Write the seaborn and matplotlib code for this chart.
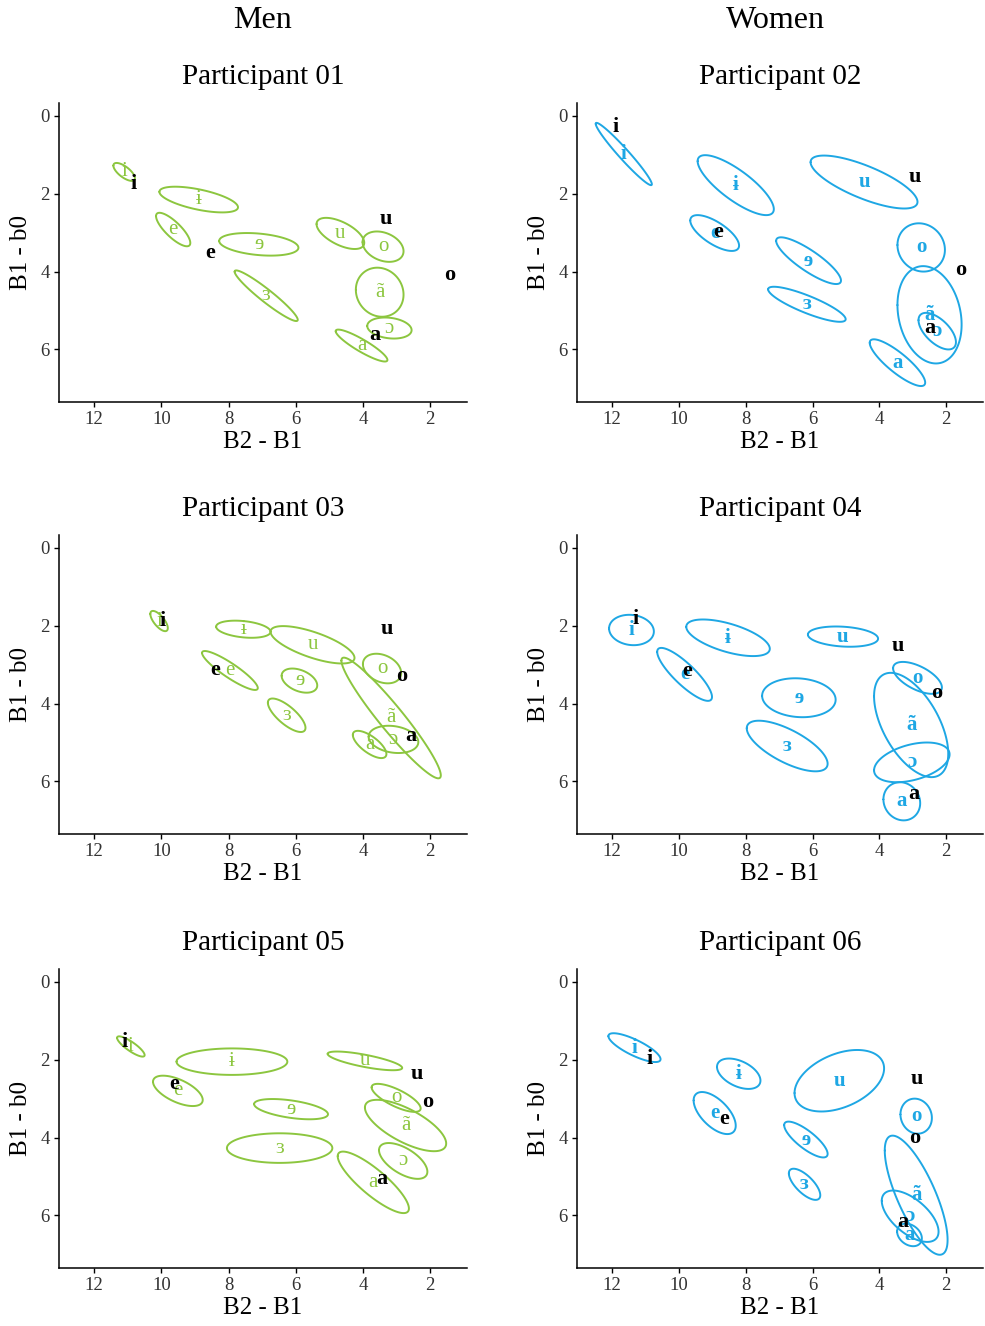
import numpy as np
import pandas as pd
import seaborn as sns
from matplotlib import pyplot as plt

# vowel categories (ellipse labels) and reference vowels (black labels)
VOWELS = ['i', 'ɨ', 'e', 'ɘ', 'ɜ', 'u', 'o', 'ã', 'ɔ', 'a']
REF_VOWELS = ['i', 'e', 'u', 'o', 'a']

# per participant: ellipse centre, half ranges and correlation (Bark)
P01_CX = [11.11, 8.89, 9.65, 7.10, 6.88, 4.67, 3.40, 3.50, 3.21, 4.04]
P01_CY = [1.44, 2.15, 2.92, 3.30, 4.62, 3.02, 3.36, 4.53, 5.45, 5.90]
P01_HX = [0.32, 1.17, 0.51, 1.18, 0.94, 0.71, 0.61, 0.71, 0.66, 0.77]
P01_HY = [0.23, 0.33, 0.43, 0.29, 0.65, 0.40, 0.39, 0.63, 0.27, 0.41]
P01_R = [-0.7, -0.6, -0.8, -0.3, -0.95, -0.6, -0.3, -0.1, -0.2, -0.9]
P01_REF_X = [10.83, 8.56, 3.31, 1.42, 3.66]
P01_REF_Y = [1.74, 3.51, 2.64, 4.09, 5.63]

P02_CX = [11.65, 8.30, 8.93, 6.12, 6.17, 4.46, 2.75, 2.50, 2.27, 3.46]
P02_CY = [0.98, 1.78, 3.01, 3.72, 4.84, 1.70, 3.38, 5.11, 5.53, 6.34]
P02_HX = [0.84, 1.14, 0.73, 0.97, 1.16, 1.60, 0.71, 0.96, 0.56, 0.83]
P02_HY = [0.80, 0.77, 0.46, 0.60, 0.45, 0.68, 0.62, 1.25, 0.47, 0.60]
P02_R = [-0.97, -0.8, -0.7, -0.85, -0.85, -0.75, -0.1, -0.2, -0.6, -0.85]
P02_REF_X = [11.88, 8.81, 2.95, 1.58, 2.50]
P02_REF_Y = [0.28, 2.98, 1.57, 3.96, 5.44]

P03_CX = [10.07, 7.56, 7.96, 5.89, 6.27, 5.50, 3.43, 3.16, 3.09, 3.80]
P03_CY = [1.88, 2.09, 3.15, 3.41, 4.30, 2.49, 3.10, 4.37, 4.92, 5.05]
P03_HX = [0.26, 0.81, 0.83, 0.53, 0.56, 1.25, 0.57, 1.48, 0.74, 0.50]
P03_HY = [0.26, 0.22, 0.50, 0.31, 0.43, 0.48, 0.38, 1.55, 0.35, 0.35]
P03_R = [-0.7, -0.3, -0.9, -0.4, -0.75, -0.7, -0.3, -0.95, -0.2, -0.7]
P03_REF_X = [9.95, 8.40, 3.28, 2.84, 2.58]
P03_REF_Y = [1.88, 3.14, 2.09, 3.29, 4.83]

P04_CX = [11.42, 8.53, 9.83, 6.41, 6.76, 5.09, 2.86, 3.05, 3.03, 3.33]
P04_CY = [2.11, 2.31, 3.25, 3.85, 5.09, 2.28, 3.34, 4.55, 5.51, 6.51]
P04_HX = [0.67, 1.25, 0.82, 1.10, 1.21, 1.05, 0.73, 1.11, 1.13, 0.55]
P04_HY = [0.39, 0.47, 0.68, 0.50, 0.65, 0.26, 0.41, 1.34, 0.51, 0.49]
P04_R = [-0.1, -0.6, -0.85, -0.1, -0.7, -0.2, -0.6, -0.55, 0.4, -0.1]
P04_REF_X = [11.31, 9.75, 3.44, 2.30, 2.97]
P04_REF_Y = [1.84, 3.16, 2.52, 3.74, 6.32]

P05_CX = [10.91, 7.90, 9.51, 6.14, 6.48, 3.94, 3.01, 2.73, 2.80, 3.69]
P05_CY = [1.66, 2.05, 2.80, 3.27, 4.27, 2.03, 2.98, 3.69, 4.60, 5.15]
P05_HX = [0.41, 1.65, 0.74, 1.10, 1.57, 1.11, 0.73, 1.21, 0.72, 1.06]
P05_HY = [0.26, 0.34, 0.39, 0.26, 0.38, 0.24, 0.36, 0.66, 0.46, 0.79]
P05_R = [-0.85, 0.0, -0.6, -0.5, 0.0, -0.75, -0.75, -0.7, -0.6, -0.85]
P05_REF_X = [11.09, 9.63, 2.38, 2.06, 3.43]
P05_REF_Y = [1.54, 2.62, 2.37, 3.08, 5.06]

P06_CX = [11.33, 8.21, 8.93, 6.20, 6.24, 5.20, 2.90, 2.90, 3.08, 3.10]
P06_CY = [1.69, 2.36, 3.37, 4.05, 5.20, 2.54, 3.45, 5.48, 6.02, 6.50]
P06_HX = [0.78, 0.65, 0.63, 0.65, 0.47, 1.34, 0.47, 0.94, 0.85, 0.37]
P06_HY = [0.37, 0.39, 0.54, 0.46, 0.40, 0.79, 0.45, 1.53, 0.66, 0.29]
P06_R = [-0.8, -0.45, -0.6, -0.8, -0.7, 0.4, -0.1, -0.75, -0.6, -0.3]
P06_REF_X = [10.87, 8.66, 2.89, 2.94, 3.29]
P06_REF_Y = [1.97, 3.52, 2.50, 4.02, 6.17]

GREEN = '#8cc63f'
BLUE = '#1ea7e4'
SERIF = ['Liberation Serif', 'DejaVu Serif']

sns.set_theme(style='ticks')
plt.rcParams['font.family'] = SERIF
plt.rcParams['text.color'] = 'black'
plt.rcParams['axes.labelcolor'] = 'black'
plt.rcParams['axes.edgecolor'] = 'black'
plt.rcParams['axes.linewidth'] = 1.1
plt.rcParams['xtick.major.width'] = 1.0
plt.rcParams['ytick.major.width'] = 1.0
plt.rcParams['xtick.major.size'] = 3.5
plt.rcParams['ytick.major.size'] = 3.5


def ellipse_frame(cx, cy, hx, hy, r):
    t = np.linspace(0, 2 * np.pi, 120)
    rows = []
    for v, x0, y0, ax_, ay_, rr in zip(VOWELS, cx, cy, hx, hy, r):
        phi = np.arccos(rr)
        rows.append(pd.DataFrame({
            'vowel': v,
            'x': x0 + ax_ * np.cos(t),
            'y': y0 + ay_ * np.cos(t + phi),
        }))
    return pd.concat(rows, ignore_index=True)


panels = [
    ('01', P01_CX, P01_CY, P01_HX, P01_HY, P01_R, P01_REF_X, P01_REF_Y, GREEN),
    ('02', P02_CX, P02_CY, P02_HX, P02_HY, P02_R, P02_REF_X, P02_REF_Y, BLUE),
    ('03', P03_CX, P03_CY, P03_HX, P03_HY, P03_R, P03_REF_X, P03_REF_Y, GREEN),
    ('04', P04_CX, P04_CY, P04_HX, P04_HY, P04_R, P04_REF_X, P04_REF_Y, BLUE),
    ('05', P05_CX, P05_CY, P05_HX, P05_HY, P05_R, P05_REF_X, P05_REF_Y, GREEN),
    ('06', P06_CX, P06_CY, P06_HX, P06_HY, P06_R, P06_REF_X, P06_REF_Y, BLUE),
]

fig = plt.figure(figsize=(9.85, 13.26), dpi=100)
lefts = [59 / 985, 577 / 985]
widths = [408 / 985, 406 / 985]
bottoms = [1 - 402 / 1326, 1 - 834 / 1326, 1 - 1268 / 1326]
height = 299 / 1326

for k, (pid, cx, cy, hx, hy, r, rx, ry, col) in enumerate(panels):
    row, c = divmod(k, 2)
    ax = fig.add_axes([lefts[c], bottoms[row], widths[c], height])
    df = ellipse_frame(cx, cy, hx, hy, r)
    sns.lineplot(data=df, x='x', y='y', units='vowel', estimator=None,
                 sort=False, color=col, lw=1.4, ax=ax)
    for v, x0, y0 in zip(VOWELS, cx, cy):
        ax.text(x0, y0, v, color=col, fontsize=15, ha='center', va='center',
                family=SERIF, fontweight='bold' if col == BLUE else 'normal')
    for v, x0, y0 in zip(REF_VOWELS, rx, ry):
        ax.text(x0, y0, v, color='black', fontsize=16, ha='center', va='center',
                family=SERIF, fontweight='bold')
    ax.set_xlim(13.05, 0.9)
    ax.set_ylim(7.35, -0.33)
    ax.set_xticks([12, 10, 8, 6, 4, 2])
    ax.set_yticks([0, 2, 4, 6])
    ax.tick_params(labelsize=13.5, labelcolor='#333333', color='black', pad=3)
    ax.set_xlabel('B2 - B1', fontsize=18, labelpad=2)
    ax.set_ylabel('B1 - b0', fontsize=18, labelpad=6)
    ax.text(0.5, 1.087, f'Participant {pid}', transform=ax.transAxes,
            ha='center', va='center', fontsize=21)
    sns.despine(ax=ax)

fig.text(262 / 985, 1 - 20 / 1326, 'Men', ha='center', va='center', fontsize=23)
fig.text(775 / 985, 1 - 20 / 1326, 'Women', ha='center', va='center', fontsize=23)

fig.savefig('out.png', dpi=100)
